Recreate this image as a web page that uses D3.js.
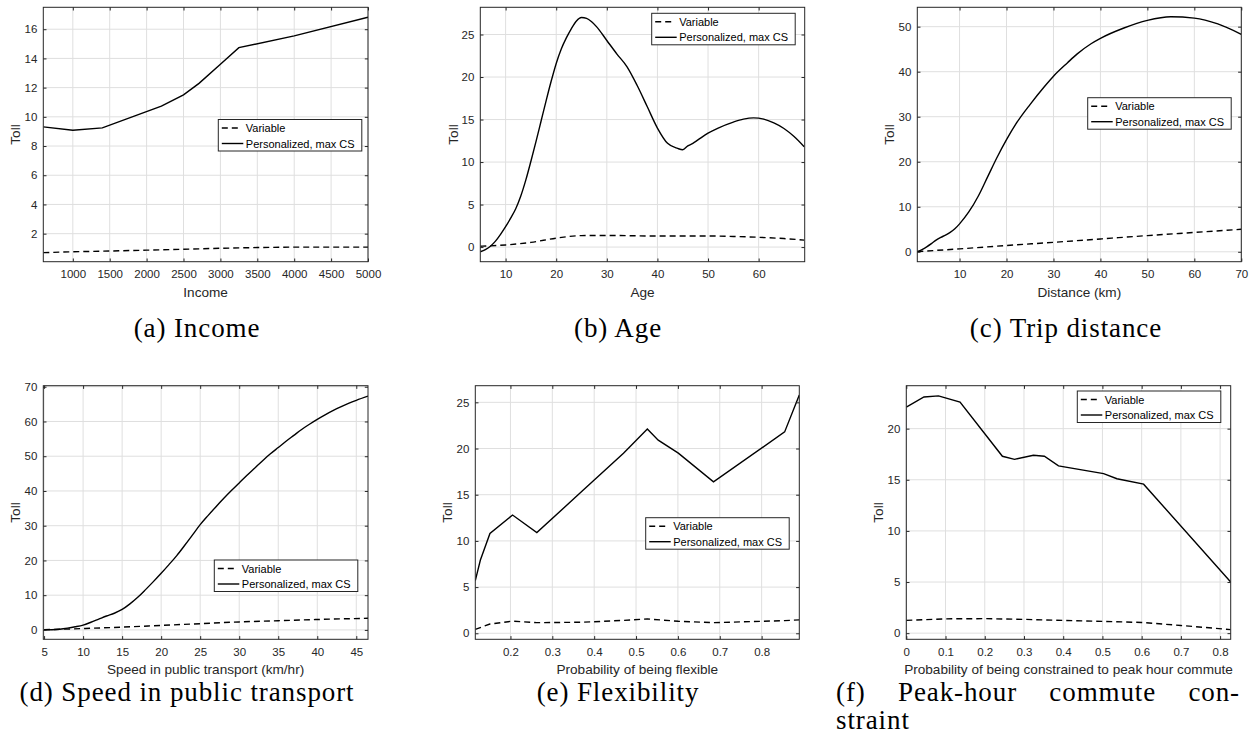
<!DOCTYPE html>
<html><head><meta charset="utf-8">
<script src="https://cdn.jsdelivr.net/npm/d3@7"></script>
<style>body{margin:0;background:#fff;} svg{display:block;}</style>
</head><body>
<svg id="chart" width="1251" height="734"></svg>
<script>
// ---------------- DATA ----------------
const seriesNames = ["Variable", "Personalized, max CS"];
const yLabel = "Toll";

// (a) Income
const incomeX = [600, 1000, 1400, 2200, 2500, 2710, 3000, 3250, 4000, 5000];
const incomePersonalized = [9.31, 9.08, 9.24, 10.73, 11.5, 12.29, 13.6, 14.74, 15.54, 16.82];
const incomeVarX = [600, 1000, 1500, 2000, 2500, 3000, 3500, 4000, 4500, 5000];
const incomeVariable = [0.70, 0.76, 0.81, 0.87, 0.93, 1.00, 1.05, 1.08, 1.08, 1.08];
const incomeTicksX = [1000, 1500, 2000, 2500, 3000, 3500, 4000, 4500, 5000];
const incomeTicksY = [2, 4, 6, 8, 10, 12, 14, 16];

// (b) Age
const ageX = [5, 6, 7, 8, 9, 10, 11, 12, 13, 14, 15, 16, 17, 18, 19, 20, 21, 22, 23, 24, 25, 26, 27, 28, 30, 32, 34, 36, 38, 40, 42, 44, 45, 46, 47, 48, 50, 52, 55, 57, 59, 61, 63, 65, 67, 69];
const agePersonalized = [-0.55, -0.3, 0.1, 0.7, 1.5, 2.4, 3.4, 4.5, 6.0, 7.9, 10.1, 12.4, 14.8, 17.2, 19.5, 21.6, 23.3, 24.6, 25.7, 26.6, 27.0, 26.9, 26.5, 25.9, 24.3, 22.7, 21.2, 19.0, 16.5, 14.0, 12.2, 11.6, 11.45, 11.9, 12.2, 12.6, 13.4, 14.0, 14.7, 15.05, 15.2, 15.05, 14.6, 13.95, 13.0, 11.8];
const ageVarX = [5, 10, 15, 20, 25, 30, 40, 50, 55, 60, 65, 69];
const ageVariable = [0.1, 0.25, 0.55, 1.05, 1.35, 1.37, 1.3, 1.3, 1.25, 1.15, 1.0, 0.82];
const ageTicksX = [10, 20, 30, 40, 50, 60];
const ageTicksY = [0, 5, 10, 15, 20, 25];

// (c) Trip distance
const distX = [1, 2, 3, 4, 5, 6, 7, 8, 9, 10, 12, 14, 16, 18, 20, 22, 25, 28, 30, 33, 35, 38, 40, 45, 50, 55, 60, 65, 70];
const distPersonalized = [0, 0.5, 1.1, 1.8, 2.6, 3.2, 3.7, 4.3, 5.1, 6.2, 8.9, 12.4, 16.7, 21.0, 24.9, 28.4, 32.7, 36.6, 39.0, 42.0, 43.9, 46.2, 47.4, 49.7, 51.4, 52.2, 51.9, 50.6, 48.3];
const distVarX = [1, 10, 20, 30, 40, 50, 60, 70];
const distVariable = [0.05, 0.65, 1.4, 2.1, 2.85, 3.6, 4.3, 5.0];
const distTicksX = [10, 20, 30, 40, 50, 60, 70];
const distTicksY = [0, 10, 20, 30, 40, 50];

// (d) Speed in public transport
const speedX = [5, 6, 7, 8, 9, 10, 11, 12, 13, 14, 15, 16, 17, 18, 19, 20, 21, 22, 23, 24, 25, 26, 27, 28, 29, 30, 31, 32, 33, 34, 35, 36, 37, 38, 39, 40, 41, 42, 43, 44, 45, 46.5];
const speedPersonalized = [0, 0.05, 0.2, 0.5, 0.9, 1.4, 2.2, 3.1, 4.0, 4.8, 5.9, 7.5, 9.4, 11.6, 13.9, 16.3, 18.8, 21.4, 24.3, 27.3, 30.3, 32.9, 35.4, 37.8, 40.1, 42.3, 44.5, 46.6, 48.7, 50.7, 52.5, 54.3, 56.0, 57.7, 59.2, 60.6, 61.9, 63.1, 64.2, 65.2, 66.1, 67.3];
const speedVarX = [5, 10, 15, 20, 25, 30, 35, 40, 46.5];
const speedVariable = [0.05, 0.4, 0.8, 1.3, 1.8, 2.3, 2.65, 3.0, 3.35];
const speedTicksX = [5, 10, 15, 20, 25, 30, 35, 40, 45];
const speedTicksY = [0, 10, 20, 30, 40, 50, 60, 70];

// (e) Flexibility
const flexX = [0.116, 0.128, 0.151, 0.205, 0.263, 0.374, 0.47, 0.527, 0.553, 0.601, 0.685, 0.855, 0.89];
const flexPersonalized = [5.7, 7.9, 10.8, 12.8, 10.9, 15.5, 19.5, 22.1, 20.9, 19.5, 16.4, 21.8, 25.8];
const flexVarX = [0.116, 0.151, 0.205, 0.263, 0.374, 0.47, 0.527, 0.601, 0.685, 0.855, 0.89];
const flexVariable = [0.43, 1.0, 1.32, 1.15, 1.2, 1.4, 1.55, 1.3, 1.15, 1.37, 1.45];
const flexTicksX = [0.2, 0.3, 0.4, 0.5, 0.6, 0.7, 0.8];
const flexTicksY = [0, 5, 10, 15, 20, 25];

// (f) Peak-hour commute constraint
const peakX = [0, 0.045, 0.082, 0.137, 0.245, 0.276, 0.324, 0.352, 0.388, 0.503, 0.537, 0.605, 0.827];
const peakPersonalized = [22.1, 23.1, 23.2, 22.6, 17.3, 17.0, 17.4, 17.3, 16.36, 15.6, 15.1, 14.57, 5.0];
const peakVarX = [0, 0.1, 0.2, 0.3, 0.4, 0.5, 0.6, 0.7, 0.827];
const peakVariable = [1.25, 1.4, 1.42, 1.35, 1.25, 1.15, 1.05, 0.75, 0.35];
const peakTicksX = [0, 0.1, 0.2, 0.3, 0.4, 0.5, 0.6, 0.7, 0.8];
const peakTicksY = [0, 5, 10, 15, 20];

// ---------------- PANELS (layout) ----------------
const panels = [
  {x: incomeX, y: incomePersonalized, vx: incomeVarX, vy: incomeVariable, tx: incomeTicksX, ty: incomeTicksY,
   xd: [600, 5000], yd: [0.08, 17.5], box: [43.3, 7.3, 368, 261.7], smooth: false,
   xlabel: "Income", ylx: 15, leg: [218.3, 119.5], cap: "(a) Income", capX: 197, capY: 337},
  {x: ageX, y: agePersonalized, vx: ageVarX, vy: ageVariable, tx: ageTicksX, ty: ageTicksY,
   xd: [5, 69.1], yd: [-1.72, 28.2], box: [480.3, 7.3, 804.7, 261.7], smooth: true,
   xlabel: "Age", ylx: 453.3, leg: [651.7, 13.3], cap: "(b) Age", capX: 618, capY: 337},
  {x: distX, y: distPersonalized, vx: distVarX, vy: distVariable, tx: distTicksX, ty: distTicksY,
   xd: [1, 70], yd: [-2.2, 54.3], box: [917.3, 7.3, 1241.3, 261.7], smooth: true,
   xlabel: "Distance (km)", ylx: 889.3, leg: [1087.7, 97.7], cap: "(c) Trip distance", capX: 1066, capY: 337},
  {x: speedX, y: speedPersonalized, vx: speedVarX, vy: speedVariable, tx: speedTicksX, ty: speedTicksY,
   xd: [4.9, 46.5], yd: [-2.7, 70.3], box: [43.3, 385.7, 368, 639.3], smooth: true,
   xlabel: "Speed in public transport (km/hr)", ylx: 15, leg: [214.3, 560], cap: "(d) Speed in public transport", capX: 187, capY: 701},
  {x: flexX, y: flexPersonalized, vx: flexVarX, vy: flexVariable, tx: flexTicksX, ty: flexTicksY,
   xd: [0.116, 0.89], yd: [-0.65, 26.8], box: [475.3, 385.7, 799.3, 639.3], smooth: false,
   xlabel: "Probability of being flexible", ylx: 446.7, leg: [645.7, 517.7], cap: "(e) Flexibility", capX: 618, capY: 701},
  {x: peakX, y: peakPersonalized, vx: peakVarX, vy: peakVariable, tx: peakTicksX, ty: peakTicksY,
   xd: [0, 0.827], yd: [-0.6, 24.2], box: [906.3, 385.7, 1230.7, 639.3], smooth: false,
   xlabel: "Probability of being constrained to peak hour commute", ylx: 878.3, leg: [1077.3, 391],
   capJustify: ["(f)", "Peak-hour", "commute", "con-"], cap2: "straint", capL: 836, capR: 1240, capY: 700.5, cap2Y: 729}
];

const svg = d3.select("#chart");
const AX = "#262626", GRID = "#dfdfdf";
const tickFont = "11.5px", labelFont = "13.6px", legFont = "11px";
const sans = "'Liberation Sans', Arial, Helvetica, sans-serif";
const serif = "'Liberation Serif', 'Times New Roman', serif";
const capSize = "27px", capSpacing = "0.9px";

panels.forEach((p, i) => {
  const [L, T, R, B] = p.box;
  const W = R - L, H = B - T;
  const x = d3.scaleLinear().domain(p.xd).range([0, W]);
  const y = d3.scaleLinear().domain(p.yd).range([H, 0]);
  const g = svg.append("g").attr("transform", `translate(${L},${T})`);

  g.append("rect").attr("width", W).attr("height", H).attr("fill", "#fff");
  // grid
  g.append("g").selectAll("line").data(p.tx).join("line")
    .attr("x1", d => x(d)).attr("x2", d => x(d)).attr("y1", 0).attr("y2", H)
    .attr("stroke", GRID).attr("stroke-width", 1);
  g.append("g").selectAll("line").data(p.ty).join("line")
    .attr("y1", d => y(d)).attr("y2", d => y(d)).attr("x1", 0).attr("x2", W)
    .attr("stroke", GRID).attr("stroke-width", 1);

  const clipId = "clip" + i;
  g.append("clipPath").attr("id", clipId).append("rect").attr("width", W).attr("height", H);

  const curve = p.smooth ? d3.curveMonotoneX : d3.curveLinear;
  const line = d3.line().x(d => x(d[0])).y(d => y(d[1])).curve(curve);
  const lines = g.append("g").attr("clip-path", `url(#${clipId})`);
  lines.append("path").datum(d3.zip(p.vx, p.vy)).attr("d", line)
    .attr("fill", "none").attr("stroke", "#000").attr("stroke-width", 1.4).attr("stroke-dasharray", "6,4");
  lines.append("path").datum(d3.zip(p.x, p.y)).attr("d", line)
    .attr("fill", "none").attr("stroke", "#000").attr("stroke-width", 1.4);

  // axes with inward ticks on all four sides
  const styleAxis = sel => {
    sel.select(".domain").remove();
    sel.selectAll(".tick line").attr("stroke", AX);
    sel.selectAll("text").attr("fill", AX).style("font-family", sans).style("font-size", tickFont);
  };
  g.append("g").attr("transform", `translate(0,${H})`)
    .call(d3.axisBottom(x).tickValues(p.tx).tickFormat(d3.format("")).tickSize(-3.2).tickPadding(8.5)).call(styleAxis);
  g.append("g")
    .call(d3.axisTop(x).tickValues(p.tx).tickFormat("").tickSize(-3.2)).call(styleAxis);
  g.append("g")
    .call(d3.axisLeft(y).tickValues(p.ty).tickFormat(d3.format("")).tickSize(-3.2).tickPadding(6)).call(styleAxis);
  g.append("g").attr("transform", `translate(${W},0)`)
    .call(d3.axisRight(y).tickValues(p.ty).tickFormat("").tickSize(-3.2)).call(styleAxis);

  g.append("rect").attr("width", W).attr("height", H).attr("fill", "none")
    .attr("stroke", AX).attr("stroke-width", 1);

  // axis labels
  g.append("text").attr("x", W / 2).attr("y", H + 35).attr("text-anchor", "middle")
    .attr("fill", AX).style("font-family", sans).style("font-size", labelFont).text(p.xlabel);
  svg.append("text").attr("transform", `translate(${p.ylx + 5},${T + H / 2}) rotate(-90)`)
    .attr("text-anchor", "middle").attr("fill", AX).style("font-family", sans).style("font-size", labelFont).text(yLabel);

  // legend
  const [lx, ly] = p.leg;
  const lg = svg.append("g").attr("transform", `translate(${lx},${ly})`);
  lg.append("rect").attr("width", 143.5).attr("height", 31.5).attr("fill", "#fff").attr("stroke", AX).attr("stroke-width", 1);
  const rows = [{dash: "6,4", name: seriesNames[0], yy: 8.5, x2: 19.5}, {dash: null, name: seriesNames[1], yy: 24, x2: 25}];
  rows.forEach(r => {
    lg.append("line").attr("x1", 3.5).attr("x2", r.x2).attr("y1", r.yy).attr("y2", r.yy)
      .attr("stroke", "#000").attr("stroke-width", 1.4).attr("stroke-dasharray", r.dash);
    lg.append("text").attr("x", 27.5).attr("y", r.yy + 4).attr("fill", "#000")
      .style("font-family", sans).style("font-size", legFont).text(r.name);
  });

  // captions
  if (p.cap) {
    svg.append("text").attr("x", p.capX).attr("y", p.capY).attr("text-anchor", "middle")
      .style("font-family", serif).style("font-size", capSize).style("letter-spacing", capSpacing)
      .attr("fill", "#000").text(p.cap);
  } else {
    const words = p.capJustify;
    const tmp = words.map(w => svg.append("text").attr("y", p.capY)
      .style("font-family", serif).style("font-size", capSize).style("letter-spacing", capSpacing)
      .attr("fill", "#000").text(w));
    const widths = tmp.map(t => t.node().getComputedTextLength());
    const gap = (p.capR - p.capL - d3.sum(widths)) / (words.length - 1);
    let cx = p.capL;
    tmp.forEach((t, k) => { t.attr("x", cx); cx += widths[k] + gap; });
    svg.append("text").attr("x", p.capL).attr("y", p.cap2Y)
      .style("font-family", serif).style("font-size", capSize).style("letter-spacing", capSpacing)
      .attr("fill", "#000").text(p.cap2);
  }
});
</script>
</body></html>
